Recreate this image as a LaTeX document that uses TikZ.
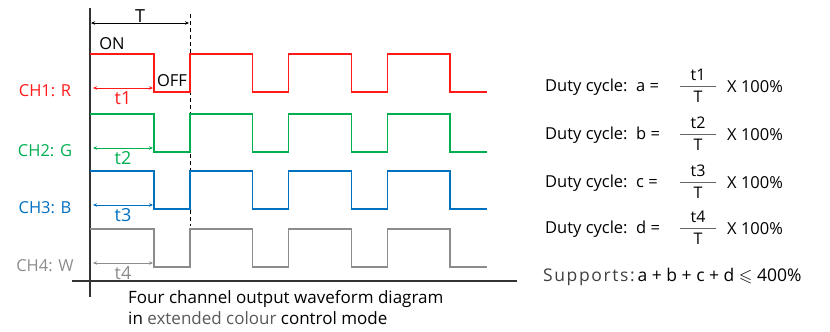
\documentclass[tikz,border=0pt]{standalone}
\usepackage{amssymb}
\usepackage{fontspec}
\setmainfont{Open Sans}
\usetikzlibrary{arrows.meta}

\definecolor{chR}{HTML}{FF1A1A}
\definecolor{chG}{HTML}{00B050}
\definecolor{chB}{HTML}{0070C0}
\definecolor{chW}{HTML}{8C8C8C}
\definecolor{axis}{HTML}{333333}

\tikzset{
  wave/.style={line width=1.4pt},
  dimarrow/.style={line width=0.8pt, {Stealth[length=4pt,width=3.5pt]}-{Stealth[length=4pt,width=3.5pt]}},
  lbl/.style={font=\fontsize{16.5}{18}\selectfont, inner sep=1pt},
  tlbl/.style={font=\fontsize{18}{20}\selectfont, inner sep=0.5pt},
  duty/.style={font=\fontsize{16.5}{19}\selectfont, anchor=west, inner sep=0pt},
  frac/.style={font=\fontsize{16}{18}\selectfont, inner sep=0pt}
}

\begin{document}
\begin{tikzpicture}[x=1pt,y=-1pt]
  \useasboundingbox (0,0) rectangle (830,332);
  \def\xo{90};
  \def\xf{154};
  \def\xr{190};
  \def\p{98.7};

  % axes
  \draw[axis, line width=1.3pt] (\xo,8) -- (\xo,297);
  \draw[axis, line width=1.3pt] (72,281) -- (517,281);

  % period marker
  \draw[black, line width=1pt, dash pattern=on 4pt off 3pt] (\xr,14) -- (\xr,226);
  \coordinate (Ts) at (\xo+1,23);
  \coordinate (Te) at (\xr-1,23);
  \draw[dimarrow, line width=1pt] (Ts) -- (Te) node[tlbl, midway, above, yshift=-1pt] {T};
  \node[lbl] (on) at (112,44) {ON};

  % channels
  \foreach \n/\hi/\col/\L in {1/54/chR/R, 2/114/chG/G, 3/171/chB/B, 4/229/chW/W} {
    \pgfmathsetmacro\lo{\hi+38}
    \draw[wave, \col] (\xo,\hi) -- (\xf,\hi) -- (\xf,\lo)
      \foreach \k in {0,1,2} { -- ({\xr+\k*\p},\lo) -- ({\xr+\k*\p},\hi)
        -- ({\xf+(\k+1)*\p},\hi) -- ({\xf+(\k+1)*\p},\lo) }
      -- (487,\lo);
    \node[lbl, \col] (ch\n) at (45,\lo-1) {CH\n: \L};
    \coordinate (s\n) at (93,\lo-4);
    \coordinate (e\n) at (\xf-1,\lo-4);
    \draw[dimarrow, \col] (s\n) -- (e\n) node[tlbl, midway, below, yshift=-2.5pt] {t\n};
  }
  \node[lbl, fill=white, inner sep=0.5pt] (off) at (172,81) {OFF};

  % caption
  \node[font=\fontsize{17}{21}\selectfont, align=left, anchor=north west, inner sep=0pt] (cap) at (128,290)
    {Four channel output waveform diagram\\in {\color{black!65}extended colour} control mode};

  % duty cycle formulas
  \foreach \v/\n/\y in {a/1/87, b/2/135, c/3/183, d/4/229} {
    \node[duty] (dc\v) at (545,\y) {Duty cycle:\ \ \v\ =};
    \node[frac] (num\v) at (698,\y-12) {t\n};
    \node[frac] (den\v) at (698,\y+10) {T};
    \draw[black!60, line width=1pt] (680,\y-1) -- (716,\y-1);
    \node[duty] (pc\v) at (727,\y) {X 100\%};
  }
  \node[duty, black!75, font=\fontsize{17.5}{20}\selectfont] (sup) at (543,277)
    {S\kern1.6pt u\kern1.6pt p\kern1.6pt p\kern1.6pt o\kern1.6pt r\kern1.6pt t\kern1.6pt s\kern1.6pt :\,\color{black}a + b + c + d \ensuremath{\leqslant} 400\%};
\end{tikzpicture}
\end{document}
